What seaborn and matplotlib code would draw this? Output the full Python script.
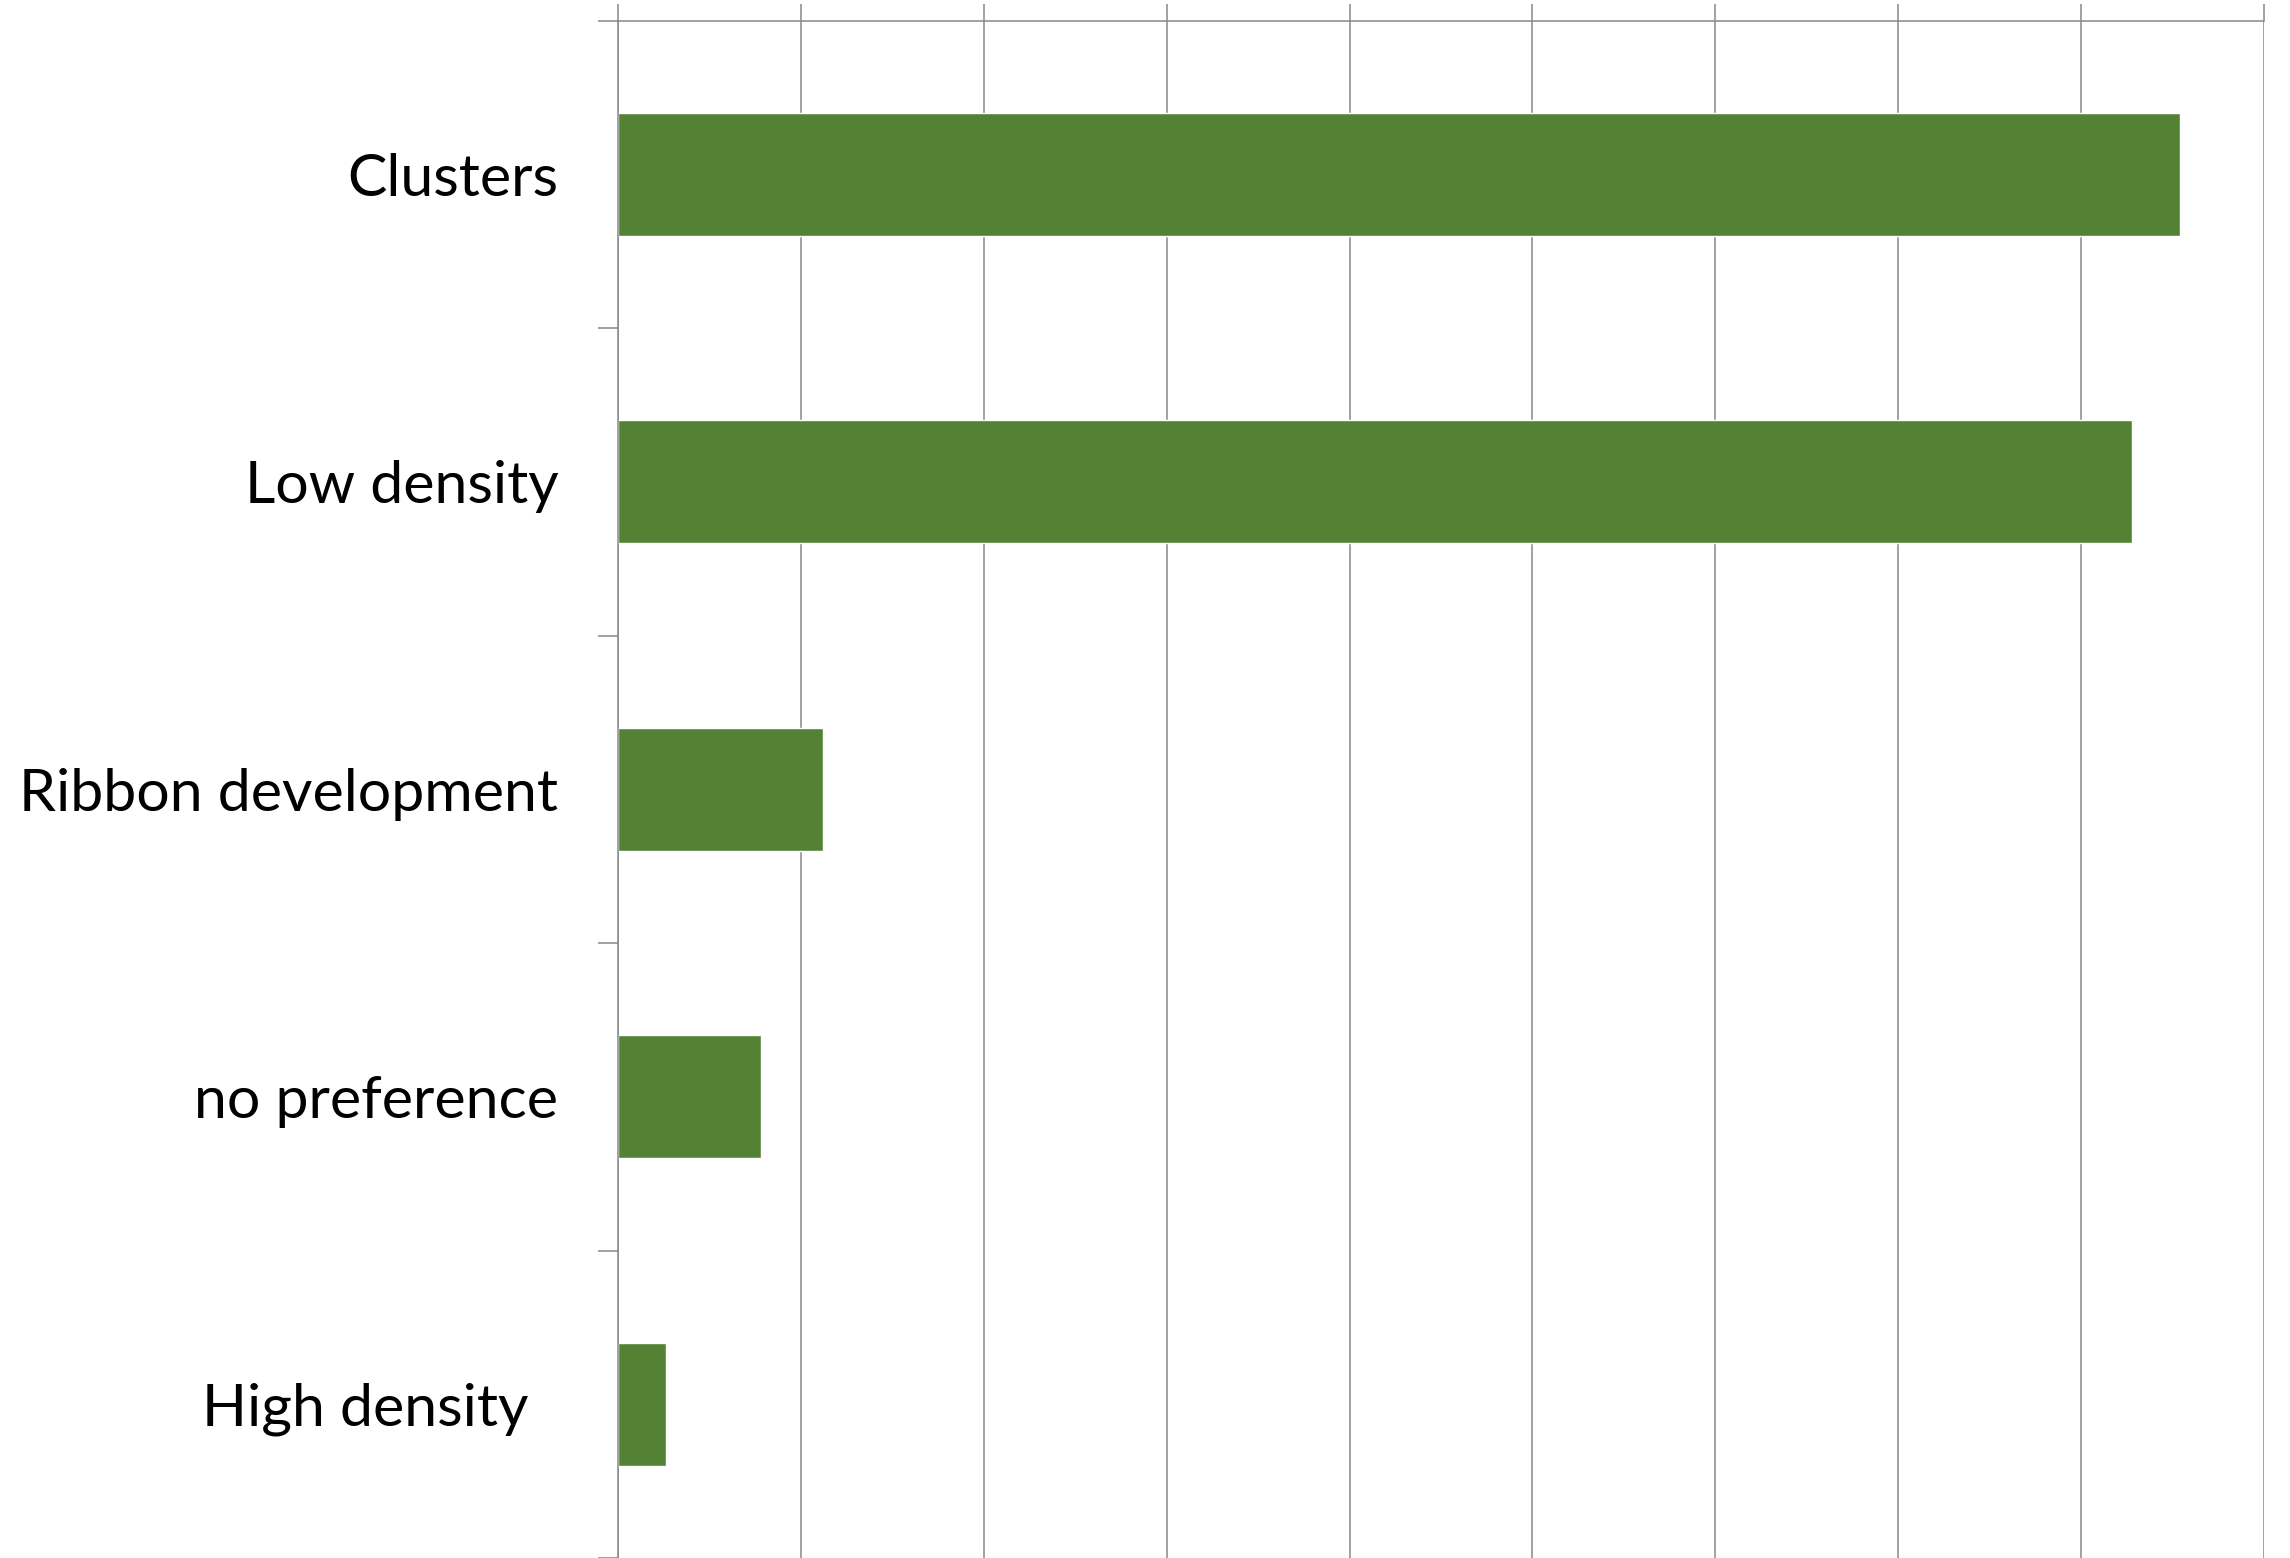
import matplotlib
matplotlib.use("Agg")
import matplotlib.pyplot as plt
import seaborn as sns
import pandas as pd

sns.set_theme(style="white")
plt.rcParams['font.family'] = ['Lato', 'DejaVu Sans']

categories = ['Clusters', 'Low density', 'Ribbon development', 'no preference', 'High density  ']
values = [42.7, 41.4, 5.6, 3.9, 1.3]
xticks = [0, 5, 10, 15, 20, 25, 30, 35, 40, 45]

data = pd.DataFrame({'category': categories, 'value': values})
grey = '#888888'

fig = plt.figure(figsize=(22.9, 15.58), dpi=100)
ax = fig.add_axes([618 / 2290, 0, (2264 - 618) / 2290, (1558 - 20.7) / 1558])

sns.barplot(data=data, x='value', y='category', orient='h', color='#548235',
            saturation=1, width=0.4, ax=ax)

ax.set_xlim(0, 45)
ax.set_ylim(4.5, -0.5)
ax.set_xticks(xticks)
ax.xaxis.tick_top()
ax.tick_params(axis='x', which='major', direction='out', length=12, width=1.1,
               color=grey, labeltop=False, labelbottom=False)
ax.grid(axis='x', color=grey, linewidth=1.1)
ax.set_axisbelow(True)

ax.set_yticks([i - 0.5 for i in range(6)], minor=True)
ax.tick_params(axis='y', which='minor', direction='out', length=14.4, width=1.1, color=grey, left=True)
ax.tick_params(axis='y', which='major', length=0, pad=43, labelsize=42.5, labelcolor='black', left=False)

for side in ['right', 'bottom']:
    ax.spines[side].set_visible(False)
for side in ['top', 'left']:
    ax.spines[side].set_color(grey)
    ax.spines[side].set_linewidth(1.1)

ax.set_xlabel('')
ax.set_ylabel('')

fig.savefig('out.png', dpi=100, facecolor='white')
